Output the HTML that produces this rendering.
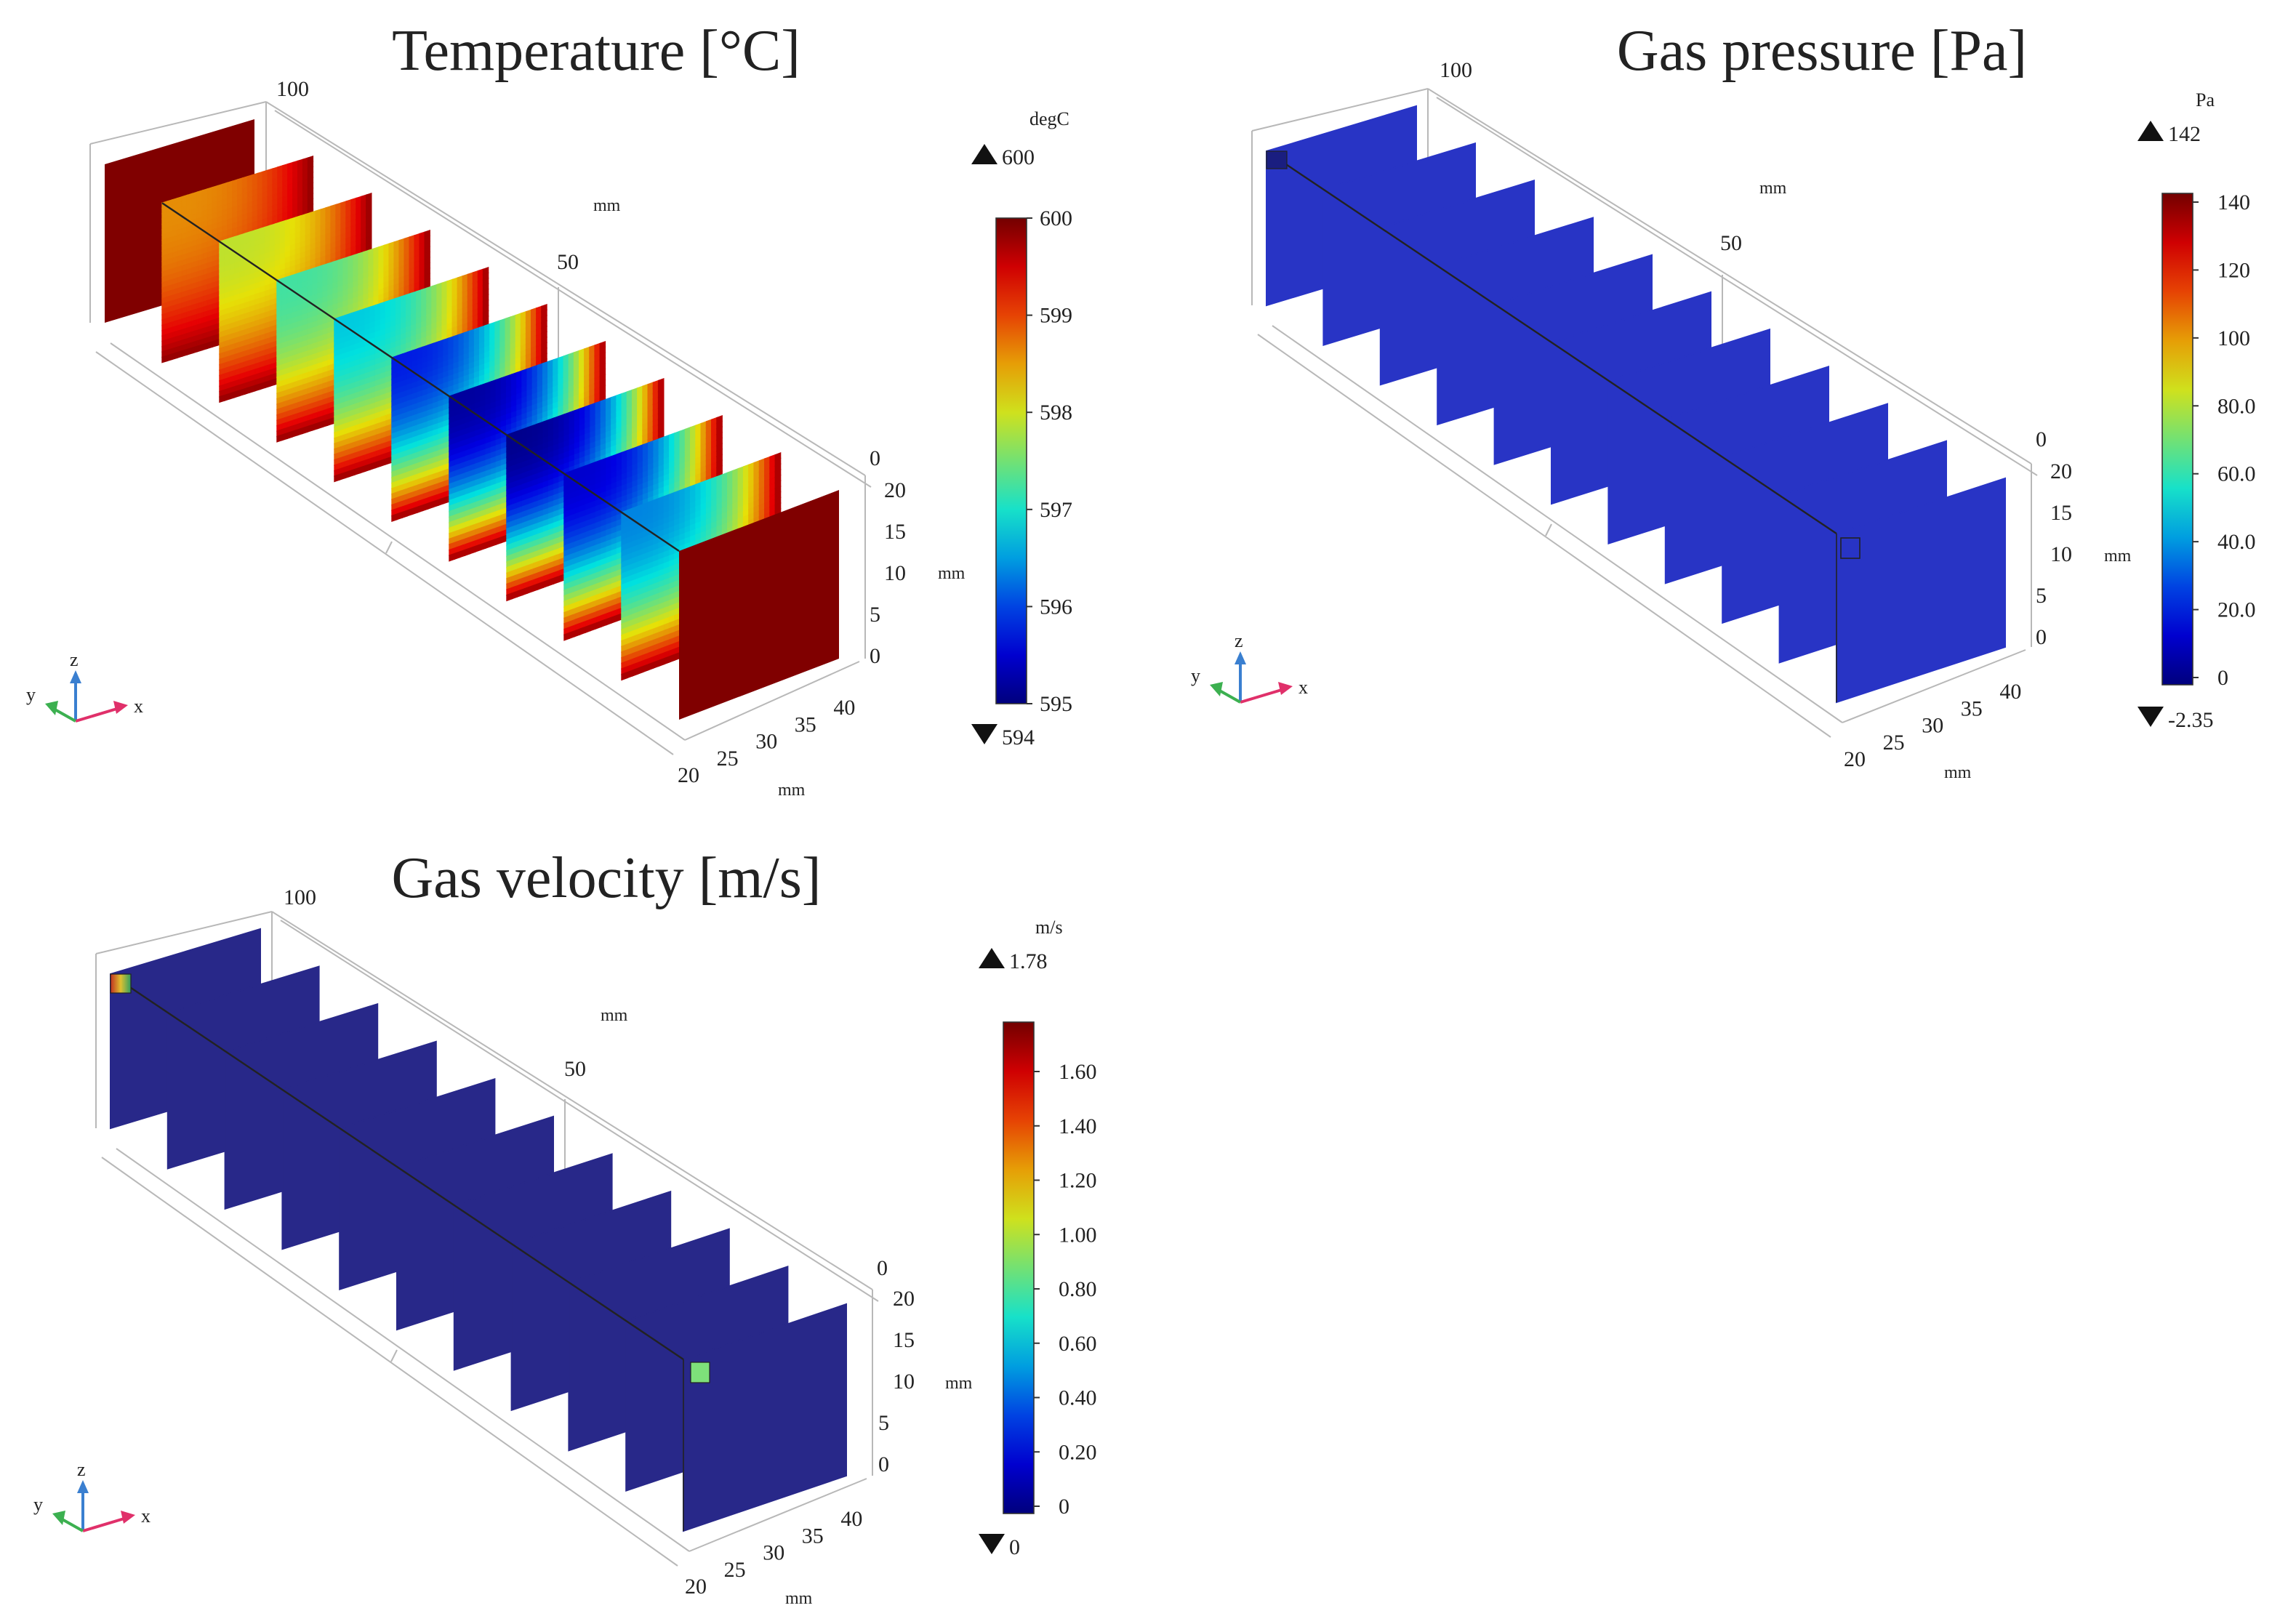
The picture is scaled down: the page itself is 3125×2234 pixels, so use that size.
<!DOCTYPE html>
<html><head><meta charset="utf-8"><style>
html,body{margin:0;padding:0;background:#fff}
svg{display:block}
text{font-family:"Liberation Serif",serif;fill:#222}
</style></head><body>
<svg id="chart" width="3125" height="2234" viewBox="0 0 1562.5 1117" xmlns="http://www.w3.org/2000/svg">
<defs id="defs"></defs>
<g id="root"></g>
</svg>
<script>
// ---- data ----
const tempSlabMin = [598.7, 598.0, 597.3, 596.8, 595.8, 595.2, 595.1, 595.5, 596.4];
const tempRange = [595, 600];
const tempTicks = ["600","599","598","597","596","595"];
const pressTicks = ["140","120","100","80.0","60.0","40.0","20.0","0"];
const velTicks = ["1.60","1.40","1.20","1.00","0.80","0.60","0.40","0.20","0"];
const pressValue = [18];
const pressRange = [-2.35, 142];
const velValue = [0.05];
const velRange = [0, 1.78];
const zLabels = ["20","15","10","5","0"];
const xLabels = ["20","25","30","35","40"];

const NS = "http://www.w3.org/2000/svg";
const root = document.getElementById('root');
const defs = document.getElementById('defs');
function el(tag, attrs, parent){ const e=document.createElementNS(NS,tag); for(const k in attrs) e.setAttribute(k,attrs[k]); (parent||root).appendChild(e); return e; }
function txt(s,x,y,size,parent,anchor){ const t=el('text',{x:x,y:y,'font-size':size,'text-anchor':anchor||'start'},parent); t.textContent=s; return t; }
function jetArr(v){ v=Math.max(0,Math.min(1,v));
  const r=Math.max(0,Math.min(1,1.5-Math.abs(4*v-3))), g=Math.max(0,Math.min(1,1.5-Math.abs(4*v-2))), b=Math.max(0,Math.min(1,1.5-Math.abs(4*v-1)));
  return [r*230, g*225, b*210+20*(1-v)]; }
function jet(v){ const c=jetArr(v); return `rgb(${Math.round(c[0])},${Math.round(c[1])},${Math.round(c[2])})`; }
function tint(v){ const c=jetArr(v); return `rgb(${Math.round(c[0]*0.8+40)},${Math.round(c[1]*0.8+40)},${Math.round(c[2]*0.8+15)})`; }
function norm(v,r){ return (v-r[0])/(r[1]-r[0]); }
let gid=0;
function grad(stops,vertical){ const id='g'+(gid++); const g=el('linearGradient',{id:id,x1:0,y1:0,x2:vertical?0:1,y2:vertical?1:0},defs);
  stops.forEach(s=>el('stop',{offset:s[0],'stop-color':s[1],'stop-opacity':s[2]===undefined?1:s[2]},g)); return 'url(#'+id+')'; }

function geom(P,i){ const [A0,A10,w0,w10,hh]=P; const f=i/10;
  const ax=A0[0]+(A10[0]-A0[0])*f, ay=A0[1]+(A10[1]-A0[1])*f;
  const wx=w0[0]+(w10[0]-w0[0])*f, wy=w0[1]+(w10[1]-w0[1])*f, h=hh[0]+(hh[1]-hh[0])*f;
  return {ax,ay,wx,wy,h};
}
function slabPts(s){ return `${s.ax},${s.ay} ${s.ax+s.wx},${s.ay+s.wy} ${s.ax+s.wx},${s.ay+s.wy+s.h} ${s.ax},${s.ay+s.h}`; }
function pt(s,u,v){ return [s.ax+u*s.wx, s.ay+u*s.wy+v*s.h]; }

function frame(g,P){ // grey wireframe
  const s0=geom(P,0), s10=geom(P,10);
  const c='#b8b8b8';
  const L=(x1,y1,x2,y2)=>{ const l=el('line',{x1,y1,x2,y2,stroke:c,'stroke-width':1},g);   };
  L(s0.ax-10,s0.ay-14,s0.ax+s0.wx+8,s0.ay+s0.wy-12);
  L(s0.ax+s0.wx+8,s0.ay+s0.wy-12,s10.ax+s10.wx+18,s10.ay+s10.wy-10);
  L(s0.ax+s0.wx+14,s0.ay+s0.wy-6,s10.ax+s10.wx+22,s10.ay+s10.wy-2);
  L(s0.ax-10,s0.ay-14,s0.ax-10,s0.ay+s0.h);
  L(s0.ax+s0.wx+8,s0.ay+s0.wy-12,s0.ax+s0.wx+8,s0.ay+s0.wy+s0.h-12);
  L(s0.ax+4,s0.ay+s0.h+14,s10.ax+4,s10.ay+s10.h+14);
  L(s0.ax-6,s0.ay+s0.h+20,s10.ax-4,s10.ay+s10.h+24);
  L(s10.ax+s10.wx+18,s10.ay+s10.wy-10,s10.ax+s10.wx+18,s10.ay+s10.wy+s10.h);
  L(s10.ax+4,s10.ay+s10.h+14,s10.ax+s10.wx+14,s10.ay+s10.wy+s10.h+2);
  const m=geom(P,5);
  L(m.ax+m.wx+8,m.ay+m.wy-12,m.ax+m.wx+8,m.ay+m.wy+m.h-12);
  L(m.ax,m.ay+m.h+14,m.ax-4,m.ay+m.h+22);
}

function axisLabels(g,o){
  txt("100",o.l100[0],o.l100[1],15,g); txt("50",o.l50[0],o.l50[1],15,g); txt("mm",o.mmTop[0],o.mmTop[1],12,g);
  txt("0",o.z0[0],o.z0[1],15,g);
  zLabels.forEach((s,i)=>{ txt(s,o.z[0]+(s.length<2?-8:0)-(i>2?2:0),o.z[1]+i*28.5,15,g); });
  txt("mm",o.zmm[0],o.zmm[1],12,g);
  xLabels.forEach((s,i)=>txt(s,o.x[0]+i*26.8,o.x[1]-i*11.6,15,g));
  txt("mm",o.xmm[0],o.xmm[1],12,g);
}
function triad(g,x,y){
  el('line',{x1:x,y1:y,x2:x,y2:y-30,stroke:'#3a7fd0','stroke-width':2},g); el('polygon',{points:`${x-4},${y-26} ${x+4},${y-26} ${x},${y-35}`,fill:'#3a7fd0'},g);
  el('line',{x1:x,y1:y,x2:x+30,y2:y-9,stroke:'#e0306a','stroke-width':2},g); el('polygon',{points:`${x+26},${y-14} ${x+28},${y-5} ${x+36},${y-11}`,fill:'#e0306a'},g);
  el('line',{x1:x,y1:y,x2:x-16,y2:y-9,stroke:'#3cb050','stroke-width':2},g); el('polygon',{points:`${x-12},${y-14} ${x-14},${y-4} ${x-21},${y-12}`,fill:'#3cb050'},g);
  txt("z",x-4,y-38,13,g); txt("x",x+40,y-6,13,g); txt("y",x-34,y-14,13,g);
}
function colorbar(g,o,ticks){
  const stops=[]; for(let k=0;k<=10;k++) stops.push([k/10,jet(1-k/10)]);
  const r=el('rect',{x:o.x,y:o.y0,width:21,height:o.y1-o.y0,fill:grad(stops,true),stroke:'#333','stroke-width':0.8},g);
   
  ticks.forEach((s,i)=>{ const y=o.y0+o.t0+(o.y1-o.y0-o.t0-o.t1)*i/(ticks.length-1);
    el('line',{x1:o.x+21,y1:y,x2:o.x+25,y2:y,stroke:'#333'},g);
    const t=txt(s,o.x+(o.wide?38:30),y+5,15,g);   });
  txt(o.unit,o.ux,o.uy,13,g);
  el('polygon',{points:`${o.x-17},${o.maxy} ${o.x-8},${o.maxy-14} ${o.x+1},${o.maxy}`,fill:'#111'},g); txt(o.max,o.x+4,o.maxy,15,g);
  el('polygon',{points:`${o.x-17},${o.miny-14} ${o.x-8},${o.miny} ${o.x+1},${o.miny-14}`,fill:'#111'},g); txt(o.min,o.x+4,o.miny,15,g);
}
function title(g,s,x,y){ const t=txt(s,x,y,40,g,'middle');   }

// ---------- Temperature ----------
{
  const g=el('g',{});  
  const P=[[72,113],[467,379],[103,-31],[110,-42],[109,116]];
  title(g,"Temperature [°C]",410,48);
  frame(g,P);
  const N=30;
  for(let i=0;i<=10;i++){ const s=geom(P,i);
    const sg=el('g',{},g);
     
    if(i===0||i===10){ el('polygon',{points:slabPts(s),fill:'#800000'},sg); continue; }
    const vmin=tempSlabMin[i-1];
    for(let a=0;a<N;a++) for(let b=0;b<N;b++){
      const u=(a+0.5)/N, v=(b+0.5)/N;
      const f=1-(1-Math.pow(u,3.0))*(1-Math.pow(v,2.4));
      const val=vmin+(600-vmin)*f;
      const p1=pt(s,a/N,b/N),p2=pt(s,(a+1)/N,b/N),p3=pt(s,(a+1)/N,(b+1)/N),p4=pt(s,a/N,(b+1)/N);
      const c=jet(norm(val,tempRange)*0.97);
      el('polygon',{points:`${p1} ${p2} ${p3} ${p4}`,fill:c,stroke:c,'stroke-width':0.7},sg);
    }
  }
  const a=geom(P,1), b=geom(P,10);
  el('line',{x1:a.ax,y1:a.ay,x2:b.ax,y2:b.ay,stroke:'#222','stroke-width':1.2},g);
  axisLabels(g,{l100:[190,66],l50:[383,185],mmTop:[408,145],z0:[598,320],z:[608,342],zmm:[645,398],x:[466,538],xmm:[535,547]});
  triad(g,52,496);
  colorbar(g,{x:685,y0:150,y1:484,t0:0,t1:0,unit:"degC",ux:708,uy:86,max:"600",maxy:113,min:"594",miny:512},tempTicks);
}
// ---------- Pressure ----------
{
  const g=el('g',{});  
  const P=[[871,104],[1263,367],[103,-31],[116,-38],[106,116]];
  title(g,"Gas pressure [Pa]",1253,48);
  frame(g,P);
  const col=tint(norm(pressValue[0],pressRange));
  for(let i=0;i<=10;i++){ const s=geom(P,i); const p=el('polygon',{points:slabPts(s),fill:col,stroke:col},g);
      }
  const a=geom(P,0), b=geom(P,10);
  el('line',{x1:a.ax,y1:a.ay,x2:b.ax,y2:b.ay,stroke:'#222','stroke-width':1.2},g);
  el('line',{x1:b.ax,y1:b.ay,x2:b.ax,y2:b.ay+b.h,stroke:'#222','stroke-width':0.8},g);
  el('rect',{x:a.ax,y:a.ay,width:14,height:12,fill:'#1a1e80',stroke:'#222','stroke-width':0.6},g);
  el('rect',{x:b.ax+3,y:b.ay+3,width:13,height:14,fill:'none',stroke:'#222','stroke-width':0.8},g);
  axisLabels(g,{l100:[990,53],l50:[1183,172],mmTop:[1210,133],z0:[1400,307],z:[1410,329],zmm:[1447,386],x:[1268,527],xmm:[1337,535]});
  triad(g,853,483);
  colorbar(g,{x:1487,y0:133,y1:471,t0:6,t1:5,wide:true,unit:"Pa",ux:1510,uy:73,max:"142",maxy:97,min:"-2.35",miny:500},pressTicks);
}
// ---------- Velocity ----------
{
  const g=el('g',{});  
  const P=[[76,670],[470,935],[103,-31],[112,-38],[106,118]];
  title(g,"Gas velocity [m/s]",417,617);
  frame(g,P);
  const col=tint(0.03+norm(velValue[0],velRange)*0.1);
  for(let i=0;i<=10;i++){ const s=geom(P,i); const p=el('polygon',{points:slabPts(s),fill:col,stroke:col},g);
      }
  const a=geom(P,0), b=geom(P,10);
  el('line',{x1:a.ax,y1:a.ay,x2:b.ax,y2:b.ay,stroke:'#222','stroke-width':1.2},g);
  el('line',{x1:b.ax,y1:b.ay,x2:b.ax,y2:b.ay+b.h,stroke:'#222','stroke-width':0.8},g);
  el('rect',{x:a.ax,y:a.ay,width:14,height:13,fill:grad([[0,'#c03020'],[0.5,'#e0c030'],[1,'#30a060']]),stroke:'#222','stroke-width':0.6},g);
  el('rect',{x:b.ax+5,y:b.ay+2,width:13,height:14,fill:'#7ee07a',stroke:'#222','stroke-width':0.6},g);
  axisLabels(g,{l100:[195,622],l50:[388,740],mmTop:[413,702],z0:[603,877],z:[614,898],zmm:[650,955],x:[471,1096],xmm:[540,1103]});
  triad(g,57,1053);
  colorbar(g,{x:690,y0:703,y1:1041,t0:34,t1:5,wide:true,unit:"m/s",ux:712,uy:642,max:"1.78",maxy:666,min:"0",miny:1069},velTicks);
}
</script>
</body></html>
